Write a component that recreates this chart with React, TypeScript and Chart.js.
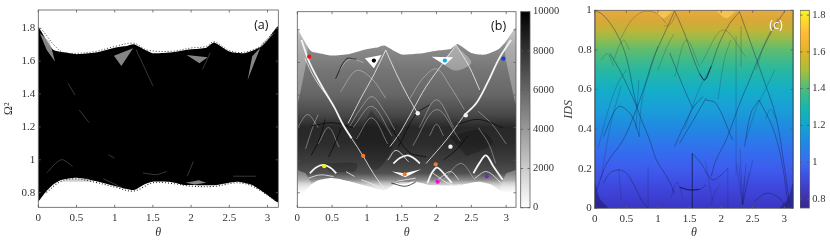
import React, { useEffect, useRef } from "react";
import { Chart, registerables } from "chart.js";
Chart.register(...registerables);

type P = [number, number];

const PI = 3.1416;
const thetaTicks = [0, 0.5, 1, 1.5, 2, 2.5, 3];
const omegaTicks = [0.8, 1, 1.2, 1.4, 1.6, 1.8];
const idsTicks = [0, 0.2, 0.4, 0.6, 0.8, 1];
const countTicks = [0, 2000, 4000, 6000, 8000, 10000];
const freqTicks = [0.8, 1, 1.2, 1.4, 1.6, 1.8];

// Envelope of the spectrum, (theta, Omega^2)
const upperEdge: P[] = [[0,1.81],[0.1,1.733],[0.2,1.668],[0.37,1.652],[0.5,1.642],[0.75,1.652],[1,1.682],[1.15,1.692],[1.25,1.703],[1.4,1.668],[1.5,1.648],[1.75,1.654],[2,1.672],[2.2,1.682],[2.3,1.713],[2.5,1.658],[2.7,1.648],[2.9,1.684],[3,1.729],[3.1416,1.81]];
const lowerEdge: P[] = [[3.1416,0.745],[3,0.786],[2.8,0.847],[2.6,0.867],[2.3,0.845],[2,0.847],[1.9,0.847],[1.75,0.863],[1.5,0.867],[1.4,0.853],[1.25,0.816],[1,0.841],[0.75,0.871],[0.5,0.891],[0.3,0.877],[0.2,0.851],[0.1,0.806],[0,0.745]];
const upperFuzz: P[] = [[0.03,1.8],[0.3,1.658],[0.5,1.648],[0.75,1.659],[1,1.689],[1.25,1.709],[1.42,1.668],[1.75,1.66],[2,1.68],[2.2,1.69],[2.3,1.718],[2.5,1.664],[2.7,1.654],[2.9,1.69],[3.1,1.79]];
const lowerFuzz: P[] = [[3.1,0.755],[2.8,0.84],[2.6,0.86],[2.3,0.838],[2,0.84],[1.75,0.856],[1.5,0.86],[1.25,0.81],[1,0.834],[0.75,0.863],[0.5,0.884],[0.3,0.87],[0.1,0.8]];

// Panel (a): gaps in the black spectrum
const gapsA: P[][] = [
  [[0.99,1.632],[1.24,1.678],[1.087,1.571]],
  [[1.943,1.638],[2.217,1.624],[2.109,1.587]],
  [[0.02,1.77],[0.15,1.72],[0.22,1.597],[0.11,1.668]],
  [[3.11,1.78],[2.93,1.71],[2.74,1.486],[2.8,1.63]],
  [[0.304,0.867],[0.413,0.885],[0.652,0.885],[0.717,0.867]],
  [[1.93,0.86],[2.1,0.875],[2.2,0.86],[2.05,0.85]],
];
const specksA: P[][] = [
  [[0.39,1.465],[0.48,1.394]],
  [[0.535,1.303],[0.665,1.226]],
  [[0.11,0.92],[0.3,1],[0.45,0.96]],
  [[0.92,1.03],[1.0,1.01]],
  [[0.85,0.885],[1.1,0.83]],
  [[1.37,0.92],[1.55,0.91],[1.68,0.93]],
  [[1.95,0.9],[2.03,0.99]],
  [[2.55,0.9],[2.85,0.9]],
  [[1.28,1.67],[1.5,1.45]],
  [[2.25,1.65],[2.15,1.55]],
];

// Panel (b): intensity by Omega^2, light and dark structure
const grayStopsB: [number, string][] = [[0.8,"#ffffff"],[0.84,"#dddddd"],[0.86,"#bbbbbb"],[0.88,"#888888"],[0.92,"#505050"],[1,"#3c3c3c"],[1.1,"#2c2c2c"],[1.2,"#282828"],[1.28,"#484848"],[1.4,"#666666"],[1.55,"#757575"],[1.7,"#8c8c8c"],[1.85,"#bbbbbb"]];
const veilsB: P[][] = [
  [[0,1.85],[0,1.35],[0.06,1.45],[0.15,1.68],[0.1,1.76]],
  [[3.1416,1.85],[3.1416,1.35],[3.08,1.45],[2.98,1.68],[3.05,1.76]],
  [[0,0.94],[0,0.7],[0.22,0.82],[0.12,0.92]],
  [[3.1416,0.94],[3.1416,0.7],[2.92,0.82],[3.0,0.92]],
  [[2.28,1.7],[2.5,1.6],[2.28,1.55],[2.06,1.6]],
];
const shadesB: P[][] = [
  [[1.065,1.308],[1.376,1.104],[1.113,0.94],[0.827,1.124]],
  [[2.19,1.144],[2.62,1.185],[2.81,1.104],[2.43,1.022]],
  [[0.373,0.981],[0.85,0.981],[0.827,0.93],[0.468,0.93]],
  [[1.4,0.875],[1.65,0.875],[1.6,0.86],[1.45,0.855]],
];
const holesB: P[][] = [
  [[0.97,1.625],[1.21,1.645],[1.1,1.564]],
  [[1.93,1.635],[2.24,1.631],[2.12,1.584]],
  [[1.36,0.93],[1.54,0.92],[1.78,0.945],[1.55,0.895]],
];
const whiteThick: P[][] = [
  [[0.06,1.737],[0.18,1.594],[0.37,1.441],[0.54,1.318],[0.66,1.216],[0.78,1.134]],
  [[3.07,1.737],[2.9,1.625],[2.74,1.482],[2.57,1.349],[2.4,1.277]],
  [[0.18,0.92],[0.27,0.955],[0.37,0.971],[0.47,0.955],[0.56,0.92]],
  [[1.38,0.98],[1.48,1.015],[1.59,1.03],[1.68,1.01],[1.76,0.98]],
  [[2.53,0.92],[2.62,0.985],[2.71,1.03],[2.82,0.96],[2.95,0.88]],
  [[1.87,0.86],[1.93,0.92],[2.01,0.955],[2.12,0.91],[2.22,0.86]],
];
const whiteThin: P[][] = [
  [[0.78,1.134],[0.95,1.022],[1.09,0.92],[1.26,0.817]],
  [[0.11,1.625],[0.25,1.502],[0.47,1.369]],
  [[1.27,1.676],[1.42,1.533],[1.59,1.39],[1.73,1.288]],
  [[1.27,1.676],[1.11,1.533],[0.9,1.369],[0.73,1.226]],
  [[2.28,1.707],[2.09,1.594],[1.85,1.451],[1.66,1.308],[1.47,1.165],[1.33,1.083]],
  [[2.28,1.707],[2.47,1.574],[2.62,1.431]],
  [[2.4,1.277],[2.14,1.124],[1.85,0.98]],
  [[0.16,0.89],[0.33,0.91],[0.52,0.9]],
  [[0.92,0.88],[1.1,0.85],[1.24,0.82]],
  [[0.7,0.93],[0.82,0.9]],
  [[1.42,0.87],[1.7,0.89]],
  [[1.95,0.92],[2.2,0.85],[2.35,0.85]],
  [[2.02,0.88],[2.2,0.93],[2.32,0.88]],
  [[2.55,0.89],[2.72,0.93],[2.93,0.86]],
  [[1.3,1],[1.42,1.06],[1.6,0.99]],
];
const softArches: P[][] = [
  [[0.75,1.206],[0.9,1.31],[1.07,1.39],[1.25,1.3],[1.4,1.185]],
  [[0.8,1.2],[1.07,1.33],[1.36,1.15]],
  [[0.85,1.13],[1.07,1.26],[1.3,1.1]],
  [[0.62,1.42],[0.85,1.55],[1.07,1.5],[1.27,1.38]],
  [[0.6,1.55],[0.75,1.62],[0.95,1.6]],
  [[1.66,1.09],[2,1.31],[2.34,1.12]],
  [[1.62,1.38],[1.8,1.5],[2,1.56],[2.2,1.45],[2.4,1.31]],
  [[1.75,1.2],[2,1.37],[2.25,1.2]],
  [[1.9,1.15],[2,1.22],[2.1,1.15]],
  [[0,1.2],[0.15,1.28],[0.3,1.2]],
  [[0.12,1.07],[0.22,1.2],[0.3,1.28]],
  [[0.3,1.1],[0.45,1.2],[0.6,1.08]],
  [[2.6,1.3],[2.8,1.22],[3,1.1]],
  [[2.6,1.2],[2.75,1.1],[2.85,0.98]],
  [[2.1,0.88],[2.35,0.98],[2.55,0.88]],
];
const blackLines: P[][] = [
  [[0.2,1.21],[0.5,1.23],[0.8,1.2]],
  [[1.45,1.08],[1.7,1.28],[1.9,1.34]],
  [[1.35,1.2],[1.6,1.05],[1.85,1.02]],
  [[2.1,1],[2.3,1.07],[2.45,1.15]],
  [[2.3,1.22],[2.6,1.25],[2.95,1.2]],
  [[0.2,1.03],[0.32,1.13],[0.4,1.25]],
  [[0.45,1.02],[0.56,1.12],[0.63,1.2]],
  [[1.35,0.86],[1.55,0.84],[1.7,0.865]],
  [[0.55,1.5],[0.7,1.62],[0.85,1.62]],
];
const whiteBlobs: P[] = [[2.2,1.083],[1.73,1.288],[2.42,1.275]];
const markerRed: P[] = [[0.17,1.635]];
const markerBlack: P[] = [[1.1,1.611]];
const markerCyan: P[] = [[2.12,1.611]];
const markerBlue: P[] = [[2.96,1.623]];
const markerOrange: P[] = [[0.946,1.026],[1.543,0.913],[1.988,0.975]];
const markerYellow: P[] = [[0.387,0.963]];
const markerMagenta: P[] = [[2.016,0.868]];
const markerPurple: P[] = [[2.72,0.901]];

// Panel (c): colour by IDS and the dark curves over it
const colourStopsC: [number, string][] = [[0,"#3a36c4"],[0.1,"#3f46dc"],[0.2,"#3e5cee"],[0.3,"#3270ee"],[0.4,"#2188e2"],[0.5,"#1a9ed8"],[0.6,"#14aec8"],[0.7,"#28b8a0"],[0.8,"#5dbc70"],[0.85,"#8fbc50"],[0.9,"#c0b438"],[0.95,"#d8a838"],[1,"#e8aa3c"]];
const panelC: P[] = [[0,0],[3.1416,0],[3.1416,1],[0,1]];
const bulgesC: P[][] = [
  [[0.95,1],[1.01,0.975],[1.08,0.96],[1.16,0.975],[1.24,1]],
  [[1.92,1],[2,0.975],[2.08,0.96],[2.16,0.975],[2.24,1]],
];
const cornersC: P[][] = [
  [[0,0],[0,0.13],[0.08,0.05],[0.22,0]],
  [[3.1416,0],[3.1416,0.13],[3.06,0.05],[2.92,0]],
];
const curvesC: P[][] = [
  [[0,1],[0.136,0.976],[0.346,0.884],[0.504,0.758],[0.67,0.51],[0.87,0.345],[0.976,0.244],[1.08,0.19],[1.21,0.118],[1.26,0.07]],
  [[0.03,0.09],[0.19,0.227],[0.45,0.345],[0.67,0.51],[0.82,0.648],[0.92,0.75],[1.08,0.867],[1.265,0.997]],
  [[0.24,0.783],[0.425,0.68],[0.67,0.51]],
  [[1.265,0.997],[1.42,0.884],[1.55,0.766],[1.66,0.68],[1.74,0.648],[1.84,0.715],[1.97,0.833],[2.13,0.93],[2.29,0.993]],
  [[3,0.993],[2.81,0.9],[2.6,0.766],[2.45,0.648],[2.315,0.547],[2.18,0.429],[2.08,0.345],[1.92,0.244],[1.84,0.16]],
  [[2.29,0.993],[2.47,0.833],[2.656,0.665],[2.866,0.463],[3,0.21],[3.08,0.025]],
  [[2.6,0.547],[2.81,0.412],[2.945,0.26],[3.05,0.042]],
  [[2.37,0.311],[2.47,0.48],[2.6,0.547]],
  [[1.26,0.311],[1.55,0.505],[1.71,0.564]],
  [[1.76,0.547],[1.92,0.53],[2.18,0.345]],
  [[1.55,0.505],[1.4,0.614],[1.19,0.783]],
  [[1.34,0.328],[1.53,0.429],[1.76,0.556]],
  [[0.136,0.362],[0.373,0.513],[0.58,0.47],[0.71,0.362]],
  [[0.136,0.126],[0.241,0.177],[0.373,0.194],[0.504,0.177],[0.635,0.109],[0.74,0.042],[0.845,0]],
  [[1.344,0.106],[1.5,0.093],[1.66,0.096],[1.764,0.118]],
  [[1.543,0.278],[1.685,0.227],[1.79,0.168],[1.87,0.143],[2,0.168],[2.105,0.202]],
  [[2.525,0.034],[2.71,0.076],[2.89,0.059],[3.02,0.008]],
];
const faintCurvesC: P[][] = [
  [[1.265,0.665],[1.45,0.85],[1.66,0.715]],
  [[1.685,0.732],[2.03,0.9],[2.39,0.766]],
  [[0.4,0.85],[0.58,0.95],[0.77,0.993],[0.976,0.985],[1.13,0.934]],
  [[1.84,0.017],[1.895,0.076],[1.974,0.118]],
  [[2.34,0.017],[2.236,0.227]],
  [[2.34,0.017],[2.394,0.227]],
  [[2.34,0.017],[2.5,0.244]],
  [[2.34,0.017],[2.3,0.3]],
  [[2.34,0.02],[2.37,0.16]],
  [[2.34,0.02],[2.44,0.18]],
  [[2.34,0.02],[2.28,0.22]],
  [[1.2,0.05],[1.3,0.13],[1.4,0.05]],
  [[0.845,0],[0.845,0.21]],
  [[2.105,0],[2.105,0.2]],
  [[2.236,0.17],[2.236,0.87]],
  [[2.315,0.715],[2.315,0.92]],
  [[1.28,0.98],[1.2,0.93],[1.1,0.92]],
  [[0.65,0.4],[0.7,0.65]],
  [[0.05,0.3],[0.2,0.48],[0.35,0.62],[0.5,0.7]],
  [[0.1,0.15],[0.25,0.42],[0.42,0.62]],
  [[0.7,0.36],[0.75,0.55],[0.9,0.72],[1,0.82]],
  [[1,0.7],[1.15,0.82],[1.25,0.88]],
  [[1.42,0.4],[1.65,0.6],[1.85,0.72]],
  [[1.95,0.55],[2.05,0.75],[2.15,0.85]],
  [[2.4,0.35],[2.55,0.5],[2.7,0.6],[2.85,0.7]],
  [[2.55,0.7],[2.7,0.84],[2.9,0.96]],
  [[2.7,0.45],[2.78,0.5],[2.87,0.45]],
  [[0.38,0.2],[0.42,0.04]],
  [[0.1,0.75],[0.2,0.78],[0.3,0.72]],
  [[0.3,0.75],[0.45,0.85],[0.55,0.8]],
  [[1.75,0.24],[1.86,0.04]],
];
const strongCurvesC: P[][] = [
  [[1.543,0],[1.543,0.278]],
  [[1.344,0.106],[1.5,0.093],[1.66,0.096]],
  [[1.66,0.68],[1.74,0.648],[1.84,0.715]],
];
const edgesC: P[][] = [
  [[0,0],[0,1]],
  [[3.1416,0],[3.1416,1]],
];
const colourStopsBar: [number, string][] = [[0.751,"#35288a"],[0.8,"#3f2fa8"],[0.9,"#4048d8"],[1,"#3a6cf2"],[1.1,"#1f88e5"],[1.2,"#12a5cf"],[1.3,"#15b8ac"],[1.4,"#4cbc7c"],[1.5,"#a8bf3c"],[1.6,"#e0b428"],[1.7,"#ffb93a"],[1.826,"#f9f520"]];
const grayStopsBar: [number, string][] = [[0,"#ffffff"],[10000,"#000000"]];

const gradient = (stops: [number, string][]) => (c: any) => {
  const chart = c.chart;
  if (!chart.chartArea) return "transparent";
  const s = chart.scales.y;
  const v0 = stops[0][0];
  const v1 = stops[stops.length - 1][0];
  const g = chart.ctx.createLinearGradient(0, s.getPixelForValue(v0), 0, s.getPixelForValue(v1));
  stops.forEach(([v, col]) => g.addColorStop((v - v0) / (v1 - v0), col));
  return g;
};

const pts = (a: P[]) => a.map(([x, y]) => ({ x, y }));
const line = (a: P[], color: string, width: number, extra: any = {}) => ({
  data: pts(a), showLine: true, borderColor: color, borderWidth: width, pointRadius: 0, tension: 0.35, fill: false, ...extra,
});
const shape = (a: P[], color: any, tension = 0) => ({
  data: pts(a), showLine: true, borderWidth: 0, borderColor: "transparent", backgroundColor: color, pointRadius: 0, tension, fill: "shape",
});
const dots = (a: P[], color: string, r = 2.1) => ({
  data: pts(a), showLine: false, pointRadius: r, backgroundColor: color, borderWidth: 0, pointBorderWidth: 0,
});

const framePlugin = {
  id: "frame",
  afterDraw(chart: any) {
    const { ctx, chartArea: a, scales } = chart;
    ctx.save();
    ctx.strokeStyle = "#5a5a5a";
    ctx.lineWidth = 0.8;
    ctx.strokeRect(a.left, a.top, a.right - a.left, a.bottom - a.top);
    if (scales.x && scales.x.type === "linear") {
      for (const t of scales.x.ticks) {
        const p = scales.x.getPixelForValue(t.value);
        ctx.beginPath(); ctx.moveTo(p, a.bottom); ctx.lineTo(p, a.bottom - 2.5);
        ctx.moveTo(p, a.top); ctx.lineTo(p, a.top + 2.5); ctx.stroke();
      }
    }
    for (const t of scales.y.ticks) {
      const p = scales.y.getPixelForValue(t.value);
      ctx.beginPath(); ctx.moveTo(a.left, p); ctx.lineTo(a.left + 2.5, p);
      ctx.moveTo(a.right, p); ctx.lineTo(a.right - 2.5, p); ctx.stroke();
    }
    const tag = chart.options.plugins.frame?.tag;
    if (tag) {
      ctx.fillStyle = tag.color;
      ctx.font = '12.5px "Open Sans"';
      ctx.textAlign = "center";
      ctx.textBaseline = "middle";
      ctx.fillText(tag.text, a.right - tag.dx, a.top + tag.dy);
    }
    ctx.restore();
  },
};

const tickFont = { family: "'Liberation Serif'", size: 11 };
const noGrid = { display: false, drawTicks: false };
const fixTicks = (vals: number[]) => (s: any) => { s.ticks = vals.map((value) => ({ value })); };

const panelOptions = (o: any) => ({
  responsive: false, animation: false as const, events: [] as any[],
  devicePixelRatio: 1,
  layout: { padding: { top: o.top, right: o.right, left: 0, bottom: 0 } },
  plugins: { legend: { display: false }, tooltip: { enabled: false }, frame: { tag: o.tag } },
  scales: {
    x: {
      type: "linear", min: 0, max: PI,
      grid: noGrid, border: { display: false },
      afterBuildTicks: fixTicks(thetaTicks),
      afterFit: (s: any) => { s.height = o.xHeight; },
      ticks: { font: tickFont, color: "#333", padding: 4, maxRotation: 0, autoSkip: false, callback: (v: number) => String(v) },
      title: { display: true, text: "θ", font: { family: "'Liberation Serif'", size: 12, style: "italic" }, color: "#333", padding: { top: 0, bottom: 2 } },
    },
    y: {
      type: "linear", min: o.yMin, max: o.yMax,
      grid: noGrid, border: { display: false },
      afterBuildTicks: fixTicks(o.yTicks),
      afterFit: (s: any) => { s.width = o.yWidth; },
      ticks: { display: o.yLabels, font: tickFont, color: "#333", padding: 3, autoSkip: false, callback: (v: number) => String(v) },
      title: { display: !!o.yTitle, text: o.yTitle, font: { family: "'Liberation Serif'", size: 12, style: o.yItalic ? "italic" : "normal" }, color: "#333", padding: { top: 2, bottom: 0 } },
    },
  },
});

const barOptions = (o: any) => ({
  responsive: false, animation: false as const, events: [] as any[],
  devicePixelRatio: 1,
  layout: { padding: { top: o.top, bottom: o.bottom, left: o.left, right: 0 } },
  plugins: { legend: { display: false }, tooltip: { enabled: false } },
  scales: {
    x: { display: false, grid: { display: false } },
    y: {
      type: "linear", position: "right", min: o.min, max: o.max,
      grid: noGrid, border: { display: false },
      afterBuildTicks: fixTicks(o.ticks),
      afterFit: (s: any) => { s.width = o.yWidth; },
      ticks: { font: { family: "'Liberation Serif'", size: 10.5 }, color: "#333", padding: 3, autoSkip: false, callback: (v: number) => String(v) },
    },
  },
});

const envelope = [...upperEdge, ...lowerEdge];
const lift = (list: any[]) => list.slice().reverse();

const datasetsA = lift([
  shape(envelope, "#000000", 0.2),
  ...gapsA.map((g) => shape(g, "rgba(190,190,190,0.7)")),
  ...specksA.map((s) => line(s, "rgba(170,170,170,0.55)", 0.6)),
  line(upperFuzz, "#222222", 0.9, { borderDash: [1, 2] }),
  line(lowerFuzz, "#222222", 1.1, { borderDash: [1, 2] }),
]);

const datasetsB = lift([
  shape(envelope, gradient(grayStopsB), 0.2),
  ...veilsB.map((v) => shape(v, "rgba(255,255,255,0.3)", 0.3)),
  ...shadesB.map((v) => shape(v, "rgba(0,0,0,0.22)", 0.3)),
  ...softArches.map((w) => line(w, "rgba(225,225,225,0.45)", 0.9)),
  ...whiteThin.map((w) => line(w, "rgba(240,240,240,0.8)", 1)),
  ...blackLines.map((w) => line(w, "rgba(5,5,5,0.7)", 1)),
  ...whiteThick.map((w) => line(w, "#f4f4f4", 1.8)),
  ...holesB.map((h) => shape(h, "#ffffff")),
  dots(whiteBlobs, "#f2f2f2", 2.2),
  dots(markerRed, "#f01010"),
  dots(markerBlack, "#000000"),
  dots(markerCyan, "#10a8f0"),
  dots(markerBlue, "#1040d0"),
  dots(markerOrange, "#f07c30"),
  dots(markerYellow, "#f4f010"),
  dots(markerMagenta, "#f010d0"),
  dots(markerPurple, "#7030a0"),
]);

const datasetsC = lift([
  shape(panelC, gradient(colourStopsC)),
  ...bulgesC.map((b) => shape(b, "#f6c350", 0.3)),
  ...cornersC.map((b) => shape(b, "rgba(30,20,100,0.5)", 0.3)),
  ...faintCurvesC.map((c) => line(c, "rgba(20,30,70,0.33)", 0.7)),
  ...curvesC.map((c) => line(c, "rgba(20,30,70,0.5)", 0.8)),
  ...strongCurvesC.map((c) => line(c, "rgba(15,20,70,0.75)", 1)),
  ...edgesC.map((c) => line(c, "rgba(20,50,70,0.6)", 1.6)),
]);

const canvasStyle = (left: number, top: number): React.CSSProperties => ({
  position: "absolute", left, top, display: "block", filter: "blur(0.5px)",
});

function Panel({ left, width, type, labels, datasets, options }: any) {
  const ref = useRef<HTMLCanvasElement>(null);
  useEffect(() => {
    const chart = new Chart(ref.current as HTMLCanvasElement, {
      type, data: labels ? { labels, datasets } : { datasets }, options, plugins: [framePlugin],
    } as any);
    return () => chart.destroy();
  }, []);
  return <canvas ref={ref} width={width} height={242} style={canvasStyle(left, 0)} />;
}

const colourBar = (range: number[], stops: [number, string][]) => [{
  data: [range], backgroundColor: gradient(stops), borderWidth: 0, barPercentage: 1, categoryPercentage: 1, borderSkipped: false,
}];

export default function App() {
  useEffect(() => { document.body.style.margin = "0"; }, []);
  return (
    <div style={{ position: "relative", width: 830, height: 242, background: "#fff", overflow: "hidden" }}>
      <Panel left={0} width={280} type="scatter" datasets={datasetsA} options={panelOptions({
        top: 10, right: 1.7, xHeight: 34.7, yWidth: 38.3, yMin: 0.711, yMax: 1.911, yTicks: omegaTicks, yLabels: true, yTitle: "Ω²",
        tag: { text: "(a)", color: "#111", dx: 17, dy: 15 },
      })} />
      <Panel left={280} width={240} type="scatter" datasets={datasetsB} options={panelOptions({
        top: 11.7, right: 3.3, xHeight: 34.7, yWidth: 17.3, yMin: 0.711, yMax: 1.911, yTicks: omegaTicks, yLabels: false,
        tag: { text: "(b)", color: "#111", dx: 17.4, dy: 14.3 },
      })} />
      <Panel left={520} width={42} type="bar" labels={["IDS"]} datasets={colourBar([0, 10000], grayStopsBar)} options={barOptions({
        top: 11.7, bottom: 34.3, left: 0.7, yWidth: 32, min: 0, max: 10000, ticks: countTicks,
      })} />
      <Panel left={560} width={237} type="scatter" datasets={datasetsC} options={panelOptions({
        top: 10.3, right: 3.7, xHeight: 33.7, yWidth: 34.7, yMin: 0, yMax: 1, yTicks: idsTicks, yLabels: true, yTitle: "IDS", yItalic: true,
        tag: { text: "(c)", color: "#fff", dx: 17.3, dy: 14.7 },
      })} />
      <Panel left={800} width={30} type="bar" labels={["Ω²"]} datasets={colourBar([0.751, 1.826], colourStopsBar)} options={barOptions({
        top: 10.3, bottom: 34, left: 0, yWidth: 20.7, min: 0.751, max: 1.826, ticks: freqTicks,
      })} />
    </div>
  );
}
